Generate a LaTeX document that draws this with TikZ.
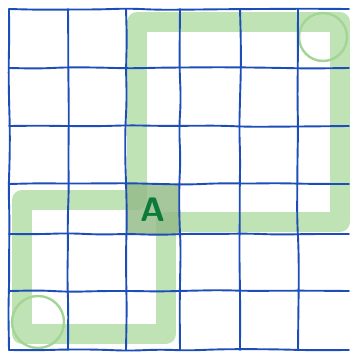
\documentclass[tikz,border=0pt]{standalone}
\usepackage{tikz}
\usetikzlibrary{decorations.pathmorphing}
\definecolor{gridBlue}{HTML}{1D4DB8}
\definecolor{routeGreen}{HTML}{BFE3B5}
\definecolor{ringGreen}{HTML}{A3D594}
\definecolor{cellShade}{HTML}{97BC8A}
\definecolor{letterGreen}{HTML}{0B7A3B}
\tikzset{
  sketch diagram/.style={line cap=round, line join=round},
  grid stroke/.style={draw=gridBlue, line width=1.9pt,
    decoration={random steps, segment length=30pt, amplitude=0.9pt},
    decorate, rounded corners=12pt},
  route band/.style={draw=routeGreen, line width=20pt, line join=round},
  ring/.style={draw=ringGreen, line width=2.4pt},
  start cell/.style={fill=cellShade, opacity=0.85},
  cell letter/.style={font=\sffamily\bfseries\fontsize{34}{34}\selectfont, text=letterGreen}
}
\begin{document}
\begin{tikzpicture}[sketch diagram, x=1pt, y=-1pt]
\useasboundingbox (0,0) rectangle (349,354);
\pgfmathsetseed{7}
% green route
\draw[route band] (166,222) -- (166,334) -- (22,334) -- (22,200) -- (137,200)
  -- (137,22) -- (340,22) -- (340,222) -- cycle;
\draw[ring] (323,37) circle (24);
\draw[ring] (38,322) circle (26);
\fill[start cell] (126,184) rectangle (180,234);
% grid
\foreach \x in {9,68,126,180,240,298}
  \draw[grid stroke] (\x,9) -- (\x,350);
\foreach \y in {9,68,126,184,234,291,350}
  \draw[grid stroke] (9,\y) -- (349,\y);
\node[cell letter] (cellA) at (153,210) {A};
\end{tikzpicture}
\end{document}
